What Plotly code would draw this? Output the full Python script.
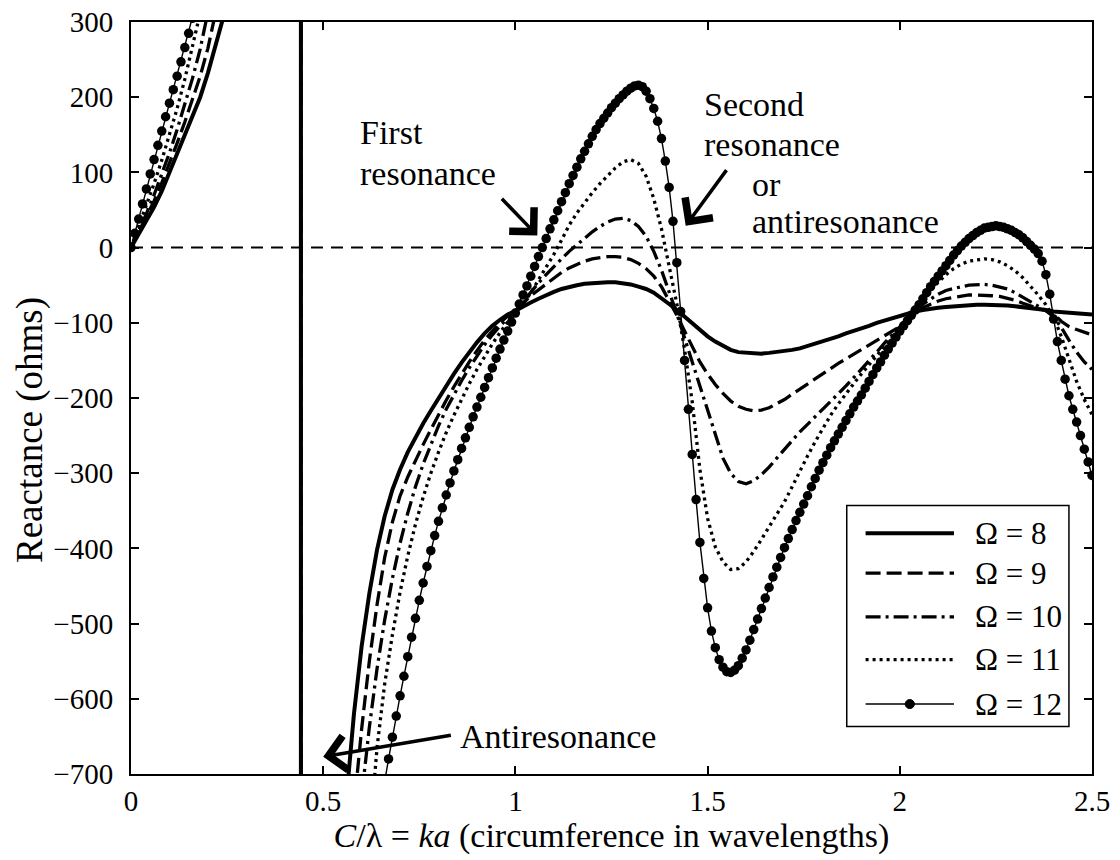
import plotly.graph_objects as go

# ---------------- data ----------------
# x grid (C/lambda = ka)
X_RISE = [round(0.02 * i, 2) for i in range(14)]          # 0.00 .. 0.26
X_POLE = [0.442, 0.442]                                   # antiresonance (pole)
X_FALL = [round(0.54 + 0.02 * i, 2) for i in range(99)]   # 0.54 .. 2.50
X_LINES = X_RISE + X_POLE + X_FALL

X12_RISE = [round(0.01 * i, 2) for i in range(19)]        # 0.00 .. 0.18
X12_FALL = [round(0.66 + 0.01 * i, 2) for i in range(185)]  # 0.66 .. 2.50
X_OMEGA12 = X12_RISE + X_POLE + X12_FALL

POLE = [9000, -9000]

OMEGA8 = [0, 18, 36, 54, 75, 100, 124, 149, 174, 200, 232, 268, 306, 350] + POLE + [
    -900, -735, -620, -530, -460, -402, -357, -322, -295, -272, -252, -234,
    -217, -200, -184, -168, -153, -139, -126, -114, -104, -96, -89, -84,
    -78, -73, -68, -63, -59, -55, -52, -50, -48, -47, -46, -46, -46, -47,
    -49, -52, -55, -60, -67, -75, -83, -92, -101, -110, -118,
    -125, -131, -136, -139, -140, -141, -141, -140, -139, -138, -136, -134,
    -131, -128, -125, -121, -118, -114, -111, -107, -104, -100, -97, -93, -90,
    -87, -85, -83, -81, -80, -79, -78, -77, -77, -76, -76, -76, -77, -77,
    -78, -79, -80, -82, -83, -85, -86, -87, -88, -88, -89]

OMEGA9 = [0, 20, 41, 62, 86, 112, 139, 167, 196, 228, 265, 310, 360, 415] + POLE + [
    -1100, -880, -745, -640, -550, -475, -412, -365, -330, -305, -283, -262,
    -242, -222, -203, -185, -168, -152, -137, -123, -111, -100, -91, -83,
    -74, -64, -56, -48, -40, -33, -27, -22, -18, -15, -13, -12, -12, -13,
    -16, -21, -28, -38, -52, -70, -90, -111, -132, -152, -168,
    -182, -194, -204, -211, -215, -217, -216, -213, -208, -202, -195, -188,
    -181, -174, -167, -161, -154, -148, -142, -135, -129, -123, -117, -111, -105,
    -95, -86, -80, -75, -71, -68, -66, -64, -63, -63, -63, -64, -65, -67,
    -70, -74, -78, -81, -84, -88, -98, -105, -109, -113, -116]

OMEGA10 = [0, 22, 45, 70, 97, 126, 157, 190, 225, 264, 310, 362, 420, 485] + POLE + [
    -1300, -1050, -860, -730, -638, -560, -495, -440, -393, -353, -318, -288,
    -261, -237, -215, -195, -177, -160, -144, -129, -116, -104, -94, -85,
    -72, -59, -47, -36, -25, -15, -5, 4, 13, 21, 28, 34, 38, 39,
    36, 28, 15, -5, -30, -58, -88, -120, -152, -185, -215,
    -250, -280, -300, -311, -314, -310, -302, -292, -280, -268, -256, -245,
    -235, -225, -215, -205, -195, -184, -173, -162, -151, -139, -127, -116, -105,
    -94, -84, -75, -68, -62, -57, -54, -52, -50, -49, -49, -50, -52, -55,
    -60, -66, -72, -78, -84, -92, -106, -123, -139, -152, -162]

OMEGA11 = [0, 28, 56, 85, 116, 149, 185, 224, 266, 312, 365, 425, 490, 560] + POLE + [
    -1600, -1300, -1100, -950, -790, -665, -580, -515, -458, -410, -368, -332,
    -300, -272, -246, -223, -201, -181, -162, -144, -128, -113, -99, -87,
    -75, -60, -43, -27, -9, 10, 30, 46, 60, 73, 85, 96, 106, 114,
    117, 112, 95, 65, 25, -25, -75, -135, -205, -295, -360,
    -398, -418, -428, -427, -418, -404, -388, -372, -356, -338, -318, -297,
    -277, -258, -240, -223, -208, -194, -181, -168, -156, -144, -132, -120, -108,
    -95, -82, -69, -57, -46, -36, -28, -22, -18, -16, -15, -16, -19, -24,
    -31, -40, -51, -63, -76, -92, -118, -148, -178, -202, -222]

OMEGA12 = [0, 19, 38, 58, 78, 98, 117, 136, 155, 174, 192, 210, 228, 247,
           266, 285, 305, 326, 348] + POLE + [
    -710, -680, -651, -623,
    -596, -570, -544, -518, -493, -469, -446, -424, -403, -383,
    -364, -346, -329, -313, -297, -282, -267, -253, -239, -225,
    -212, -199, -186, -173, -160, -147, -135, -123, -111, -99,
    -87, -75, -63, -51, -38, -25, -12, 0, 12, 25,
    37, 49, 61, 73, 85, 96, 107, 118, 128, 138,
    148, 157, 165, 172, 179, 186, 192, 198, 203, 208,
    212, 215, 216, 214, 208, 198, 185, 168, 145, 115,
    80, 35, -20, -85, -150, -215, -275, -335, -392, -440,
    -479, -510, -532, -548, -558, -564, -565, -562, -556, -546,
    -535, -522, -508, -494, -480, -466, -452, -438, -425, -412,
    -399, -387, -375, -363, -352, -341, -330, -318, -307, -296,
    -286, -276, -266, -257, -248, -239, -230, -221, -212, -204,
    -196, -187, -178, -169, -160, -152, -143, -135, -127, -119,
    -111, -104, -97, -90, -83, -76, -68, -60, -52, -45,
    -38, -31, -24, -17, -10, -4, 2, 7, 12, 16,
    20, 23, 26, 27, 28, 29, 28, 27, 25, 23,
    20, 17, 13, 8, 3, -2, -8, -18, -36, -62,
    -95, -125, -150, -175, -197, -215, -232, -250, -268, -285, -303]

SERIES_NAMES = ["Ω = 8", "Ω = 9", "Ω = 10", "Ω = 11", "Ω = 12"]
X_TICKS = [0, 0.5, 1, 1.5, 2, 2.5]
X_TICK_TEXT = ["0", "0.5", "1", "1.5", "2", "2.5"]
Y_TICKS = [300, 200, 100, 0, -100, -200, -300, -400, -500, -600, -700]

# ---------------- styles ----------------
FONT = "Liberation Serif"
DASHES = ["solid", "15px,6px", "15px,5px,3px,5px", "3px,4px", "solid"]
WIDTHS = [4, 3.3, 3.3, 3.3, 1.4]

fig = go.Figure()
series = [(X_LINES, OMEGA8), (X_LINES, OMEGA9), (X_LINES, OMEGA10),
          (X_LINES, OMEGA11), (X_OMEGA12, OMEGA12)]
for i, (xs, ys) in enumerate(series):
    is12 = i == 4
    fig.add_trace(go.Scatter(
        x=xs, y=ys, name=SERIES_NAMES[i],
        mode="lines+markers" if is12 else "lines",
        line=dict(color="black", width=WIDTHS[i], dash=DASHES[i]),
        marker=dict(size=9.5, color="black") if is12 else None,
        showlegend=False,
    ))

# zero reference line
fig.add_shape(type="line", xref="paper", x0=0, x1=1, yref="y", y0=0, y1=0,
              line=dict(color="black", width=2, dash="12px,8px"))

# ---------------- custom legend ----------------
LEG_X0, LEG_X1 = 1.862, 2.440
LEG_Y0, LEG_Y1 = -343, -637
LEG_ROWS = [-380, -433, -491, -548, -607]
fig.add_shape(type="rect", xref="x", yref="y", x0=LEG_X0, x1=LEG_X1, y0=LEG_Y0, y1=LEG_Y1,
              line=dict(color="black", width=1.5), fillcolor="white", layer="above")
for i, yr in enumerate(LEG_ROWS):
    fig.add_shape(type="line", xref="x", yref="y", x0=1.911, x1=2.141, y0=yr, y1=yr,
                  line=dict(color="black", width=WIDTHS[i], dash=DASHES[i]),
                  layer="above")
    fig.add_annotation(x=2.190, y=yr, xref="x", yref="y", text=SERIES_NAMES[i],
                       showarrow=False, xanchor="left", yanchor="middle",
                       font=dict(family=FONT, size=31, color="black"))
fig.add_shape(type="circle", xref="x", yref="y", x0=2.026 - 0.012, x1=2.026 + 0.012,
              y0=LEG_ROWS[4] - 6, y1=LEG_ROWS[4] + 6,
              fillcolor="black", line=dict(color="black", width=1), layer="above")

# ---------------- text annotations ----------------
def label(x, y, text):
    fig.add_annotation(x=x, y=y, xref="x", yref="y", text=text, showarrow=False,
                       xanchor="left", yanchor="middle", borderpad=0,
                       font=dict(family=FONT, size=34, color="black"))

label(0.594, 153, "First")
label(0.594, 99, "resonance")
label(1.487, 190, "Second")
label(1.487, 137, "resonance")
label(1.612, 84, "or")
label(1.612, 35, "antiresonance")
label(0.852, -650, "Antiresonance")

def arrow(x_head, y_head, x_tail, y_tail):
    fig.add_annotation(x=x_head, y=y_head, ax=x_tail, ay=y_tail,
                       xref="x", yref="y", axref="x", ayref="y", text="",
                       showarrow=True, arrowhead=4, arrowsize=1.9, arrowwidth=3.5,
                       arrowcolor="black")

arrow(1.057, 16, 0.961, 67)
arrow(1.443, 29, 1.552, 105)
arrow(0.50, -677, 0.836, -648)

# y-axis title (placed as rotated text, slightly below the plot centre like the reference)
fig.add_annotation(x=(30 - 131) / 961, y=(774 - 430) / 752, xref="paper", yref="paper",
                   text="Reactance (ohms)", textangle=-90, showarrow=False,
                   xanchor="center", yanchor="middle",
                   font=dict(family=FONT, size=37, color="black"))

# ---------------- axes ----------------
fig.update_xaxes(range=[0, 2.5], tickvals=X_TICKS, ticktext=X_TICK_TEXT,
                 ticks="inside", ticklen=8, tickwidth=1.5, tickcolor="black",
                 showline=True, linewidth=2, linecolor="black", mirror="ticks",
                 showgrid=False, zeroline=False, ticklabelstandoff=0,
                 tickfont=dict(family=FONT, size=29, color="black"),
                 title=dict(text="<i>C</i>/λ = <i>ka</i> (circumference in wavelengths)",
                            font=dict(family=FONT, size=34, color="black"), standoff=0))
fig.update_yaxes(range=[-700, 300], tickvals=Y_TICKS,
                 ticks="inside", ticklen=8, tickwidth=1.5, tickcolor="black",
                 showline=True, linewidth=2, linecolor="black", mirror="ticks",
                 showgrid=False, zeroline=False, ticklabelstandoff=10,
                 tickfont=dict(family=FONT, size=29, color="black"))

fig.update_layout(width=1120, height=860,
                  margin=dict(l=131, r=28, t=22, b=86, autoexpand=False),
                  plot_bgcolor="white", paper_bgcolor="white", showlegend=False,
                  font=dict(family=FONT, color="black"))

fig.write_html("out.html")
